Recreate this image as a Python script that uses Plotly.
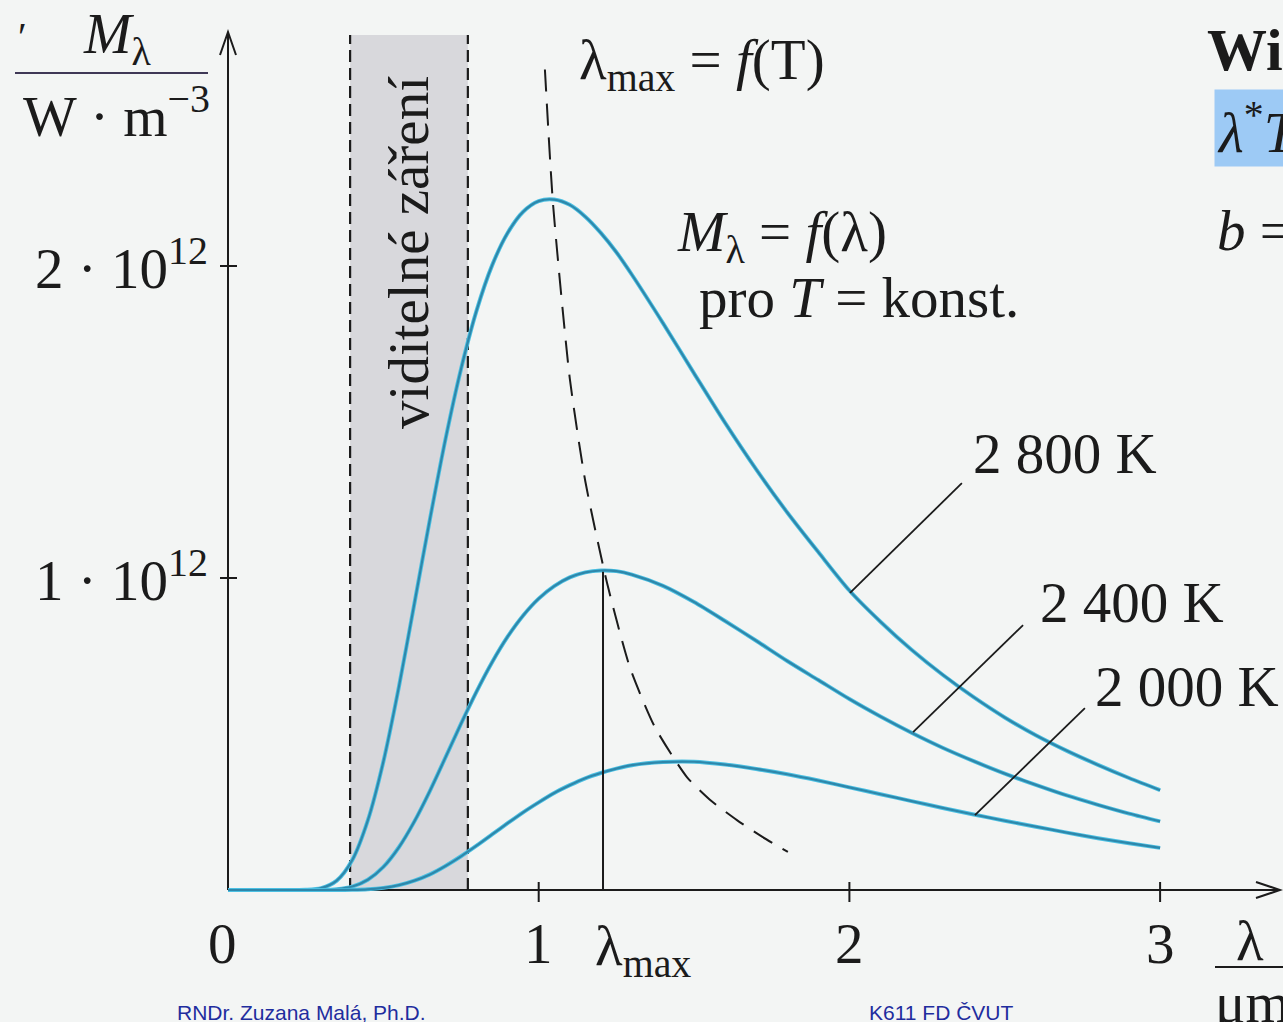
import plotly.graph_objects as go

# ---------------- data (M in units of 10^12 W·m^-3) -------------
lam = [0.0, 0.1, 0.2, 0.25, 0.3, 0.35, 0.4, 0.45, 0.5, 0.55, 0.6, 0.65, 0.7, 0.75, 0.8,
       0.85, 0.9, 0.95, 1.0, 1.05, 1.1, 1.15, 1.2, 1.25, 1.3, 1.4, 1.5, 1.6, 1.7, 1.8,
       1.9, 2.0, 2.1, 2.2, 2.3, 2.4, 2.5, 2.6, 2.7, 2.8, 2.9, 3.0]
m_2800 = [0, 0, 0, 0.0005, 0.006, 0.030, 0.096, 0.223, 0.411, 0.651, 0.919, 1.189, 1.445,
          1.670, 1.857, 2.002, 2.106, 2.174, 2.208, 2.213, 2.196, 2.158, 2.106, 2.044,
          1.972, 1.817, 1.656, 1.497, 1.348, 1.210, 1.083, 0.960, 0.860, 0.770, 0.690,
          0.618, 0.553, 0.496, 0.446, 0.401, 0.359, 0.320]
m_2400 = [0, 0, 0, 0, 0.0003, 0.0026, 0.011, 0.033, 0.074, 0.137, 0.220, 0.318, 0.425,
          0.533, 0.636, 0.730, 0.812, 0.880, 0.934, 0.974, 1.002, 1.018, 1.024, 1.022,
          1.011, 0.975, 0.923, 0.862, 0.799, 0.734, 0.673, 0.612, 0.556, 0.504, 0.456,
          0.413, 0.373, 0.337, 0.303, 0.273, 0.245, 0.220]
m_2000 = [0, 0, 0, 0, 0, 0.0001, 0.0006, 0.0023, 0.0068, 0.0155, 0.030, 0.050, 0.077,
          0.108, 0.142, 0.178, 0.214, 0.249, 0.281, 0.311, 0.336, 0.358, 0.375, 0.389,
          0.400, 0.410, 0.411, 0.402, 0.388, 0.371, 0.351, 0.329, 0.307, 0.285, 0.263,
          0.242, 0.222, 0.203, 0.184, 0.166, 0.150, 0.135]
curve_labels = ["2 800 K", "2 400 K", "2 000 K"]

# locus of maxima  lambda_max = f(T)
lam_peak_locus = [1.02, 1.046, 1.10, 1.15, 1.22, 1.294, 1.374, 1.477, 1.55, 1.638, 1.72, 1.802]
m_peak_locus = [2.63, 2.20, 1.64, 1.31, 0.984, 0.712, 0.522, 0.362, 0.29, 0.224, 0.17, 0.122]

# lambda_max marker for the 2 400 K curve
lam_max_2400 = 1.207
m_max_2400 = 1.02

# visible range (micrometres)
visible_range = [0.393, 0.772]
band_top = 2.74

x_ticks = [0, 1, 2, 3]
x_tick_text = ["0", "1", "2", "3"]
y_ticks = [1, 2]
y_tick_text = ["1 · 10<sup>12</sup>", "2 · 10<sup>12</sup>"]

# leader lines from curve to label: (x_on_curve, y_on_curve, x_end, y_end)
leaders = [(2.002, 0.952, 2.362, 1.304),
           (2.205, 0.506, 2.559, 0.849),
           (2.404, 0.240, 2.758, 0.583)]
label_pos = [(2.694, 1.40), (2.910, 0.923), (3.087, 0.651)]

# ---------------- geometry ----------------
W, H = 1283, 1022
X0PX, XSCALE = 228, 310.7
Y0PX, YSCALE = 890, 312
x_range = [-X0PX / XSCALE, (W - X0PX) / XSCALE]
y_range = [-(H - Y0PX) / YSCALE, Y0PX / YSCALE]
x_axis_end = (1280 - X0PX) / XSCALE
y_axis_top = (Y0PX - 32) / YSCALE


def px(x):
    return x / W


def py(y):
    return 1 - y / H


SERIF = "Liberation Serif"
INK = "#1b1b1b"
CURVE_EDGE = "#4cc0e2"
CURVE = "#2e87ab"
BG = "#f3f5f4"

fig = go.Figure()

for m in (m_2800, m_2400, m_2000):
    fig.add_trace(go.Scatter(x=lam, y=m, mode="lines",
                             line=dict(color=CURVE_EDGE, width=4, shape="spline", smoothing=0.8),
                             hoverinfo="skip"))
    fig.add_trace(go.Scatter(x=lam, y=m, mode="lines",
                             line=dict(color=CURVE, width=2.2, shape="spline", smoothing=0.8),
                             hoverinfo="skip"))

fig.add_trace(go.Scatter(x=lam_peak_locus, y=m_peak_locus, mode="lines",
                         line=dict(color=INK, width=2, dash="22px,12px",
                                   shape="spline", smoothing=0.6),
                         hoverinfo="skip"))

fig.add_trace(go.Scatter(x=[lam_max_2400, lam_max_2400], y=[0, m_max_2400], mode="lines",
                         line=dict(color=INK, width=2), hoverinfo="skip"))

shapes = []
# visible band
shapes.append(dict(type="rect", xref="x", yref="y", x0=visible_range[0], x1=visible_range[1],
                   y0=0, y1=band_top, fillcolor="#d8d8dc", line=dict(width=0), layer="below"))
for xv in visible_range:
    shapes.append(dict(type="line", xref="x", yref="y", x0=xv, x1=xv, y0=0, y1=band_top,
                       line=dict(color=INK, width=2.2, dash="12px,6px"), layer="below"))
# axes
shapes.append(dict(type="line", xref="x", yref="y", x0=0, x1=0, y0=0, y1=y_axis_top,
                   line=dict(color=INK, width=2), layer="below"))
shapes.append(dict(type="line", xref="x", yref="y", x0=0, x1=x_axis_end, y0=0, y1=0,
                   line=dict(color=INK, width=2), layer="below"))
shapes.append(dict(type="path", xref="x", yref="y", xsizemode="pixel", ysizemode="pixel",
                   xanchor=0, yanchor=y_axis_top, path="M-8,-23 L0,0 L8,-23",
                   line=dict(color=INK, width=2)))
shapes.append(dict(type="path", xref="x", yref="y", xsizemode="pixel", ysizemode="pixel",
                   xanchor=x_axis_end, yanchor=0, path="M-24,8 L0,0 L-24,-8",
                   line=dict(color=INK, width=2)))
# ticks
for xv in x_ticks[1:]:
    shapes.append(dict(type="line", xref="x", yref="y", xsizemode="pixel", ysizemode="pixel",
                       xanchor=xv, yanchor=0, x0=0, x1=0, y0=-12, y1=8,
                       line=dict(color=INK, width=2)))
for yv in y_ticks:
    shapes.append(dict(type="line", xref="x", yref="y", xsizemode="pixel", ysizemode="pixel",
                       xanchor=0, yanchor=yv, x0=-8, x1=9, y0=0, y1=0,
                       line=dict(color=INK, width=2)))
# leader lines
for (a, b, c, d) in leaders:
    shapes.append(dict(type="line", xref="x", yref="y", x0=a, y0=b, x1=c, y1=d,
                       line=dict(color=INK, width=1.8)))
# fraction bars of the axis units
shapes.append(dict(type="line", xref="paper", yref="paper", x0=px(15), x1=px(208),
                   y0=py(73), y1=py(73), line=dict(color="#3f3856", width=2)))
shapes.append(dict(type="line", xref="paper", yref="paper", x0=px(1215), x1=px(1290),
                   y0=py(967), y1=py(967), line=dict(color=INK, width=2)))

ann = []
FS = 57


def text(x, y, s, size=FS, xref="paper", yref="paper", **kw):
    d = dict(x=x, y=y, xref=xref, yref=yref, text=s, showarrow=False,
             xanchor="center", yanchor="middle",
             font=dict(family=SERIF, size=size, color=kw.pop("color", INK)))
    d.update(kw)
    ann.append(d)


for xv, t in zip(x_ticks, x_tick_text):
    text(xv, py(943), t, xref="x", xshift=-6 if xv == 0 else 0)
text(lam_max_2400, py(950), "λ<sub>max</sub>", xref="x", xshift=40)
for yv, t in zip(y_ticks, y_tick_text):
    text(-18 / XSCALE, yv, t, xref="x", yref="y", xanchor="right", yshift=2)

for (lx, ly), t in zip(label_pos, curve_labels):
    text(lx, ly, t, xref="x", yref="y")

text(sum(visible_range) / 2, 2.045, "viditelné záření", xref="x", yref="y", textangle=-90)

text(px(702), py(64), "λ<sub>max</sub> = <i>f</i>(T)")
text(px(782), py(236), "<i>M</i><sub>λ</sub> = <i>f</i>(λ)")
text(px(859), py(298), "pro <i>T</i> = konst.")

# axis unit labels
text(px(117), py(38), "<i>M</i><sub>λ</sub>")
text(px(22), py(36), "′", size=40)
text(px(116), py(112), "W · m<sup>−3</sup>")
text(px(1250), py(940), "λ")
text(px(1252), py(1002), "μm")

# slide text at right edge (cut off)
text(px(1205), py(50), "<b>Wienův posunovací zákon</b>", size=60, xanchor="left")
text(px(1214), py(128), "<i>λ</i><sup>*</sup><i>T</i> = <i>b</i>", xanchor="left",
     bgcolor="#9dcaf5", borderpad=2)
text(px(1215), py(226), "<i>b</i> = 2,898 · 10<sup>−3</sup> m · K", xanchor="left")

# footer
FOOT = dict(family="Liberation Sans", size=21, color="#1f2d9e")
ann.append(dict(x=px(175), y=py(1012), xref="paper", yref="paper", xanchor="left",
                yanchor="middle", text="RNDr. Zuzana Malá, Ph.D.", showarrow=False, font=FOOT))
ann.append(dict(x=px(941), y=py(1012), xref="paper", yref="paper", xanchor="center",
                yanchor="middle", text="K611 FD ČVUT", showarrow=False, font=FOOT))

fig.update_layout(
    width=W, height=H, autosize=False,
    margin=dict(l=0, r=0, t=0, b=0, pad=0),
    paper_bgcolor=BG, plot_bgcolor=BG,
    showlegend=False,
    xaxis=dict(range=x_range, visible=False, fixedrange=True),
    yaxis=dict(range=y_range, visible=False, fixedrange=True),
    shapes=shapes, annotations=ann,
)

fig.write_html("out.html", config=dict(displayModeBar=False),
               post_script="document.body.style.margin='0';"
                           "document.body.style.overflow='hidden';"
                           "document.body.style.background='#f3f5f4';")
